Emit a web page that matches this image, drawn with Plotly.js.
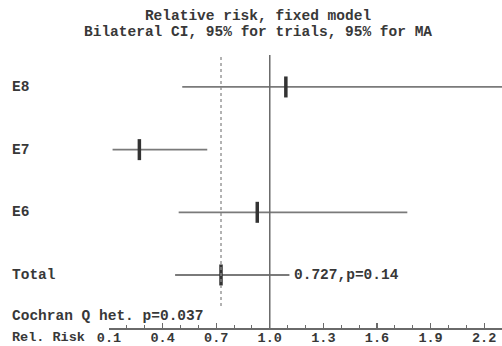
<!DOCTYPE html>
<html>
<head>
<meta charset="utf-8">
<script src="https://cdn.plot.ly/plotly-3.0.1.min.js"></script>
<style>html,body{margin:0;padding:0;background:#fff;}#chart{width:502px;height:346px;}</style>
</head>
<body>
<div id="chart"></div>
<script>
// Data
const studies = ['E8', 'E7', 'E6', 'Total'];
const relRisk = [1.09, 0.27, 0.93, 0.727];
const ciLower = [0.51, 0.12, 0.49, 0.47];
const ciUpper = [2.35, 0.65, 1.77, 1.11];
const tickValues = [0.1, 0.4, 0.7, 1.0, 1.3, 1.6, 1.9, 2.2];
const pooledRR = 0.727;
const pooledText = '0.727,p=0.14';
const hetText = 'Cochran Q het. p=0.037';
const titleLine1 = 'Relative risk, fixed model';
const titleLine2 = 'Bilateral CI, 95% for trials, 95% for MA';
const axisLabel = 'Rel. Risk';

const FONT = 'Liberation Mono, DejaVu Sans Mono, monospace';
const TXT = '#383838';
const FS = 14.5;
const W = 502, H = 346;
const px = v => v / W;
const py = v => 1 - v / H;
const f = (s) => ({family: FONT, size: s || FS, color: TXT, weight: 'bold'});

const trace = {
  type: 'scatter',
  mode: 'markers',
  x: relRisk,
  y: studies,
  marker: {symbol: 'line-ns', size: 15, line: {width: 3.5, color: '#333'}, color: '#333'},
  error_x: {
    type: 'data', symmetric: false,
    array: ciUpper.map((u, i) => u - relRisk[i]),
    arrayminus: ciLower.map((l, i) => relRisk[i] - l),
    width: 0, thickness: 1.8, color: '#7a7a7a'
  },
  hoverinfo: 'x+y',
  cliponaxis: true
};

const rowLabels = studies.map(s => ({
  xref: 'paper', yref: 'y', x: px(10), y: s, text: s,
  xanchor: 'left', yanchor: 'middle', showarrow: false, font: f()
}));

const layout = {
  width: W, height: H,
  margin: {l: 0, r: 0, t: 0, b: 0},
  paper_bgcolor: '#fff', plot_bgcolor: '#fff',
  showlegend: false,
  title: {
    text: titleLine1, x: px(258), xanchor: 'center', y: py(15), yanchor: 'middle', font: f()
  },
  xaxis: {
    domain: [px(109), 1],
    range: [0.1, 2.3],
    showgrid: false, zeroline: false,
    showline: true, linecolor: '#6a6a6a', linewidth: 1.5,
    ticks: 'inside', ticklen: 5, tickwidth: 1.2, tickcolor: '#6a6a6a',
    tickvals: tickValues, tickformat: '.1f',
    ticklabelstandoff: -4,
    tickfont: f(13.5),
    minor: {tick0: 0.1, dtick: 0.1, ticks: 'inside', ticklen: 3, tickcolor: '#6a6a6a', tickwidth: 1},
    fixedrange: true
  },
  yaxis: {
    type: 'category', categoryorder: 'array', categoryarray: studies.slice().reverse(),
    domain: [1 - 328 / H, 1 - 55 / H],
    range: [-0.846, 3.51],
    showgrid: false, zeroline: false, showline: false, showticklabels: false, ticks: '',
    fixedrange: true
  },
  shapes: [
    {type: 'line', xref: 'x', yref: 'y domain', x0: 1, x1: 1, y0: 0, y1: 1,
     line: {color: '#6a6a6a', width: 1.5}},
    {type: 'line', xref: 'x', yref: 'paper', x0: pooledRR, x1: pooledRR, y0: py(306), y1: py(57),
     line: {color: '#8a8a8a', width: 1.3, dash: 'dot'}}
  ],
  annotations: rowLabels.concat([
    {xref: 'paper', yref: 'paper', x: px(258), y: py(31.5), text: titleLine2,
     xanchor: 'center', yanchor: 'middle', showarrow: false, font: f()},
    {xref: 'x', yref: 'y', x: ciUpper[3], y: 'Total', xshift: 3, text: pooledText,
     xanchor: 'left', yanchor: 'middle', showarrow: false, font: f()},
    {xref: 'paper', yref: 'paper', x: px(10), y: py(316), text: hetText,
     xanchor: 'left', yanchor: 'middle', showarrow: false, font: f()},
    {xref: 'paper', yref: 'paper', x: px(10), y: py(337), text: axisLabel,
     xanchor: 'left', yanchor: 'middle', showarrow: false, font: f(13.5)}
  ])
};

Plotly.newPlot('chart', [trace], layout, {displayModeBar: false, staticPlot: true});
</script>
</body>
</html>
